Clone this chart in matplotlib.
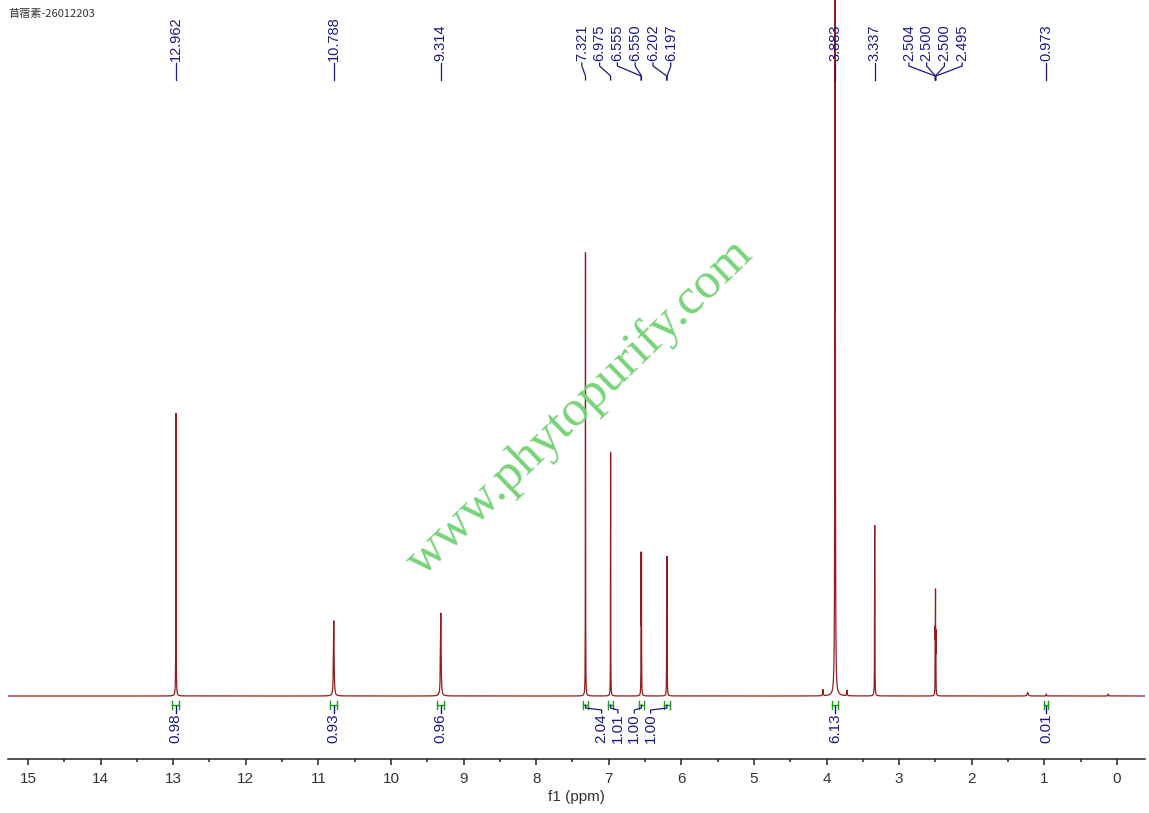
import numpy as np
import matplotlib
matplotlib.use('Agg')
import matplotlib.pyplot as plt
from matplotlib.ticker import MultipleLocator

title = '苜蓿素-26012203'

# peaks: position (ppm), height (fraction of full scale), half width (ppm)
peak_ppm = [12.962, 10.788, 9.314, 7.321, 6.975, 6.555, 6.550, 6.202, 6.197,
            4.050, 3.883, 3.720, 3.337, 2.504, 2.500, 2.495, 1.230, 0.973, 0.120]
peak_height = [0.406, 0.108, 0.119, 0.637, 0.350, 0.191, 0.191, 0.185, 0.185,
               0.009, 1.400, 0.008, 0.245, 0.082, 0.137, 0.082, 0.005, 0.003, 0.003]
peak_hwhm = [0.002, 0.005, 0.005, 0.0015, 0.0015, 0.0015, 0.0015, 0.0015, 0.0015,
             0.004, 0.003, 0.004, 0.002, 0.0015, 0.0015, 0.0015, 0.008, 0.003, 0.004]

# peak picking labels, in the groups drawn at the top
label_groups = [['12.962'], ['10.788'], ['9.314'],
                ['7.321', '6.975', '6.555', '6.550', '6.202', '6.197'],
                ['3.883'], ['3.337'], ['2.504', '2.500', '2.500', '2.495'], ['0.973']]

# integral regions and values
int_from = [13.01, 10.84, 9.36, 7.36, 7.01, 6.59, 6.24, 3.93, 1.00]
int_to = [12.92, 10.74, 9.27, 7.28, 6.94, 6.51, 6.16, 3.84, 0.95]
int_value = ['0.98', '0.93', '0.96', '2.04', '1.01', '1.00', '1.00', '6.13', '0.01']
int_groups = [[0], [1], [2], [3, 4, 5, 6], [7], [8]]

SPEC = '#941c1c'
NAVY = '#1a1a85'
GREEN = '#1f9a1f'
SANS = ['Liberation Sans', 'DejaVu Sans']

W, H = 1149, 813
BASE = 696.0      # baseline row in pixels
AXB = 759.0       # axis row in pixels
PX = 72.6         # pixels per ppm


def ypx(p):
    # pixel row -> data y
    return (BASE - p) / BASE


def lorentz(x, x0, h, w):
    return h / (1.0 + ((x - x0) / w) ** 2)


ppm = np.linspace(-0.4, 15.3, 31401)
inten = np.zeros_like(ppm)
for x0, h, w in zip(peak_ppm, peak_height, peak_hwhm):
    inten += lorentz(ppm, x0, h, w)

fig = plt.figure(figsize=(W / 100, H / 100), dpi=100)
ax = fig.add_axes([8 / W, (H - AXB) / H, (1145 - 8) / W, AXB / H])
ax.plot(ppm, inten, color=SPEC, lw=0.9)
ax.set_xlim(15 + 20 / PX, -28 / PX)
ax.set_ylim(-(AXB - BASE) / BASE, 1.0)

for s in ['left', 'right', 'top']:
    ax.spines[s].set_visible(False)
ax.spines['bottom'].set_linewidth(1.1)
ax.spines['bottom'].set_color('#222222')
ax.set_yticks([])
ax.xaxis.set_major_locator(MultipleLocator(1))
ax.xaxis.set_minor_locator(MultipleLocator(0.5))
ax.tick_params(axis='x', which='major', direction='out', length=4.5, width=1.1,
               color='#222222', labelsize=11, labelcolor='#333333', pad=5)
ax.tick_params(axis='x', which='minor', direction='out', length=2.2, width=1.1,
               color='#222222')
for lab in ax.get_xticklabels():
    lab.set_family(SANS)
ax.set_xlabel('f1 (ppm)', fontsize=11, color='#333333', labelpad=3, family=SANS)

# peak labels on top
spacing = 0.245
for grp in label_groups:
    vals = [float(v) for v in grp]
    mid = (max(vals) + min(vals)) / 2
    n = len(grp)
    for i, (txt, v) in enumerate(zip(grp, vals)):
        lx = mid + spacing * ((n - 1) / 2 - i) if n > 1 else v
        ax.text(lx, ypx(61), txt, rotation=90, ha='center', va='bottom',
                fontsize=10.5, color=NAVY, family=SANS, clip_on=False)
        if n > 1:
            ax.plot([lx, lx, v, v], [ypx(63), ypx(66), ypx(76), ypx(80)],
                    color=NAVY, lw=0.9, clip_on=False)
        else:
            ax.plot([v, v], [ypx(63), ypx(80)], color=NAVY, lw=0.9, clip_on=False)

# integrals below the baseline
ispacing = 0.225
for grp in int_groups:
    centers = [(int_from[k] + int_to[k]) / 2 for k in grp]
    mid = np.mean(centers)
    n = len(grp)
    for i, k in enumerate(grp):
        a, b = int_from[k], int_to[k]
        c = centers[i]
        ax.plot([a, b], [ypx(705), ypx(705)], color=GREEN, lw=1.0, clip_on=False)
        ax.plot([a, a], [ypx(701), ypx(709)], color=GREEN, lw=1.0, clip_on=False)
        ax.plot([b, b], [ypx(701), ypx(709)], color=GREEN, lw=1.0, clip_on=False)
        lx = mid + ispacing * ((n - 1) / 2 - i) if n > 1 else c
        if n > 1:
            ax.plot([c, c, lx, lx], [ypx(705), ypx(708), ypx(710), ypx(713)],
                    color=NAVY, lw=0.9, clip_on=False)
        else:
            ax.plot([c, c], [ypx(706), ypx(713)], color=NAVY, lw=1.0, clip_on=False)
        ax.text(lx, ypx(713), int_value[k], rotation=90, ha='center', va='top',
                fontsize=11, color=NAVY, family=SANS, clip_on=False)

fig.text(8 / W, 1 - 14 / H, title, fontsize=8, color='#333333', ha='left', va='center',
         family=['Noto Sans CJK SC', 'DejaVu Sans'])

fig.text(580 / W, 1 - 408 / H, 'www.phytopurify.com', fontsize=37, color='#78d478',
         rotation=44, rotation_mode='anchor', ha='center', va='center',
         family=['Liberation Serif', 'DejaVu Serif'])

fig.savefig('out.png', dpi=100)
